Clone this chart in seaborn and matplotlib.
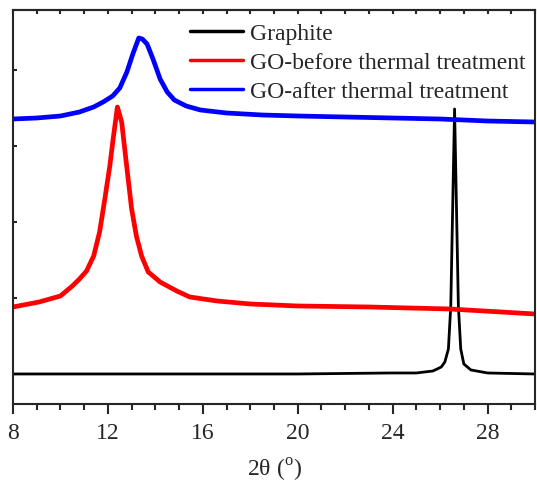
import matplotlib
matplotlib.use("Agg")
import matplotlib.pyplot as plt
import seaborn as sns
from matplotlib.ticker import MultipleLocator

# 2theta / intensity (a.u.)
graphite_x = [8.0, 12.0, 16.0, 20.0, 23.9, 25.0, 25.7, 26.05, 26.2, 26.35, 26.45,
              26.61, 26.77, 26.87, 27.0, 27.3, 28.0, 30.0]
graphite_y = [30, 30, 30, 30, 31, 31, 33, 37, 42, 55, 98,
              295, 98, 55, 40, 34, 31, 30]

go_before_x = [8.0, 9.1, 10.0, 10.5, 10.8, 11.1, 11.4, 11.65, 11.87, 12.08, 12.22,
               12.4, 12.58, 12.79, 13.0, 13.2, 13.42, 13.7, 14.2, 14.9, 15.45,
               16.6, 18.0, 20.0, 23.0, 26.4, 30.0]
go_before_y = [97, 102, 108, 118, 125, 133, 148, 172, 205, 238, 265,
               297, 282, 238, 195, 168, 148, 132, 122, 113, 107,
               103, 100, 98, 97, 95, 90]

go_after_x = [8.0, 9.0, 10.0, 10.8, 11.4, 11.8, 12.2, 12.5, 12.8, 13.05, 13.3,
              13.45, 13.65, 13.9, 14.2, 14.5, 14.8, 15.3, 15.9, 17.0, 18.5,
              20.0, 22.0, 24.0, 26.0, 28.0, 30.0]
go_after_y = [285, 286, 288, 292, 297, 302, 308, 316, 332, 350, 366,
              365, 360, 345, 325, 312, 304, 298, 294, 291, 289,
              288, 287, 286, 285, 283, 282]

labels = ["Graphite", "GO-before thermal treatment", "GO-after thermal treatment"]
y_ticks = [30, 106, 182, 258, 334]

sns.set_style("ticks")
plt.rcParams["font.family"] = ["Liberation Serif", "DejaVu Serif"]
plt.rcParams["mathtext.fontset"] = "custom"
plt.rcParams["mathtext.rm"] = "Liberation Serif"

fig = plt.figure(figsize=(5.37, 4.85), dpi=100)
ax = fig.add_axes([0.0242, 0.165, 0.9721, 0.8123])

sns.lineplot(x=graphite_x, y=graphite_y, color="black", lw=2, label=labels[0], ax=ax, sort=False)
sns.lineplot(x=go_before_x, y=go_before_y, color="#ff0000", lw=3.4, label=labels[1], ax=ax, sort=False)
sns.lineplot(x=go_after_x, y=go_after_y, color="#0000ff", lw=3.4, label=labels[2], ax=ax, sort=False)

ax.set_xlim(8, 30)
ax.set_ylim(0, 394)
ax.xaxis.set_major_locator(MultipleLocator(4))
ax.xaxis.set_minor_locator(MultipleLocator(1))
ax.set_yticks(y_ticks)
ax.set_yticklabels([])
ax.tick_params(axis="x", which="major", direction="out", length=7, width=1.5, labelsize=17, pad=6)
ax.tick_params(axis="x", which="minor", direction="out", length=4, width=1.5)
ax.tick_params(axis="y", which="major", direction="in", length=3, width=1.5)
for s in ax.spines.values():
    s.set_linewidth(1.5)
    s.set_visible(True)

top = ax.secondary_xaxis("top")
top.xaxis.set_major_locator(MultipleLocator(1))
top.tick_params(direction="in", length=3, width=1.5, labeltop=False)
top.spines["top"].set_linewidth(1.5)

ax.set_xlabel(r"2θ ($^\mathrm{o}$)", fontsize=17, labelpad=9)
ax.set_ylabel("")

leg = ax.legend(loc="upper left", bbox_to_anchor=(0.339, 0.968), frameon=False, fontsize=17,
                handlelength=2.25, handletextpad=0.3, borderpad=0, borderaxespad=0,
                labelspacing=0.32)
for h in leg.get_lines():
    h.set_linewidth(2.5)

fig.savefig("out.png", dpi=100)
